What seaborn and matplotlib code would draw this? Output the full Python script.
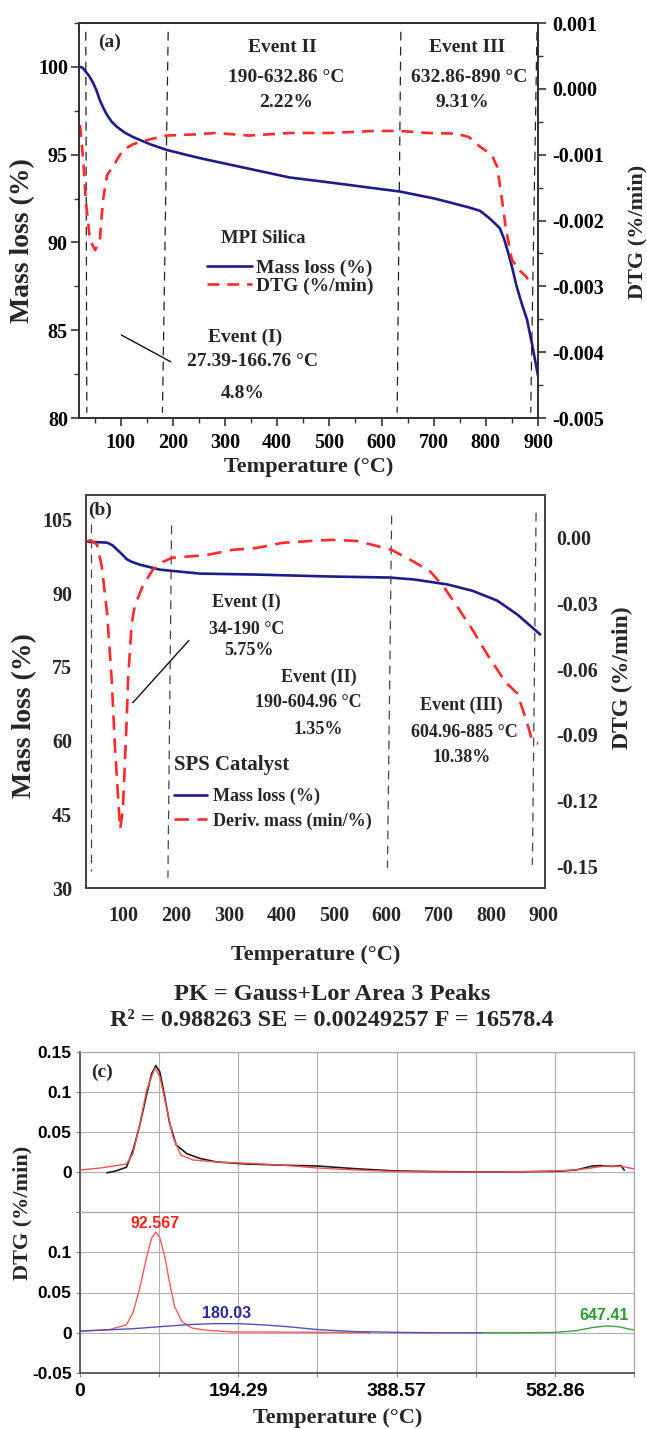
import matplotlib
matplotlib.use("Agg")
import matplotlib.pyplot as plt
import seaborn as sns
import numpy as np
from matplotlib.lines import Line2D
from matplotlib.ticker import MultipleLocator, FixedLocator
from matplotlib import font_manager as fm

# ---------------- data ----------------
# (a) MPI Silica
a_mass_T = [22, 27, 31, 39, 47, 53, 60, 66, 73, 82, 92, 108, 124, 140, 156, 188, 252, 330,
            424, 505, 635, 702, 767, 789, 806, 817, 827, 835, 843, 851, 859, 869, 879, 890, 900]
a_mass = [100.0, 99.95, 99.8, 99.5, 99.1, 98.7, 98.1, 97.7, 97.3, 96.9, 96.6, 96.25, 96.0,
          95.8, 95.6, 95.27, 94.8, 94.3, 93.7, 93.4, 92.9, 92.5, 92.0, 91.8, 91.4, 91.1,
          90.8, 90.2, 89.4, 88.5, 87.5, 86.5, 85.6, 84.0, 82.4]
a_dtg_T = [22, 28, 33, 41, 51, 60, 66, 74, 89, 104, 124, 150, 175, 188, 218, 250, 282,
           346, 425, 505, 584, 636, 687, 743, 767, 789, 811, 822, 831, 839, 850, 865, 878, 885]
a_dtg = [-0.00055, -0.00108, -0.00169, -0.0023, -0.00245, -0.0023, -0.00169, -0.00131,
         -0.00113, -0.00093, -0.00084, -0.00078, -0.00073, -0.00071, -0.0007, -0.00069,
         -0.00067, -0.00071, -0.00067, -0.00067, -0.00064, -0.00064, -0.00067, -0.00068,
         -0.00073, -0.00088, -0.001, -0.00119, -0.00169, -0.00215, -0.0026, -0.00276,
         -0.00286, -0.00296]
a_event_x_top = [33, 191, 637, 898]
a_event_x_bot = [35, 180, 630, 886]

# (b) SPS Catalyst
b_mass_T = [30, 50, 68, 78, 87, 96, 106, 115, 131, 169, 207, 245, 353, 496, 606, 653,
            716, 764, 811, 849, 893]
b_mass = [100.5, 100.4, 100.3, 99.8, 98.9, 98.0, 96.9, 96.4, 95.8, 94.8, 94.4, 94.0,
          93.8, 93.4, 93.2, 92.8, 91.8, 90.5, 88.5, 85.7, 81.6]
b_dtg_T = [30, 36, 49, 58, 68, 77, 83, 89, 93, 98, 102, 106, 108, 115, 121, 136, 155, 174,
           193, 210, 239, 258, 306, 353, 401, 456, 496, 543, 574, 610, 653, 684, 708, 731,
           764, 794, 827, 849, 866, 878, 889]
b_dtg = [-0.0018, -0.001, -0.003, -0.013, -0.034, -0.065, -0.095, -0.118, -0.133, -0.125,
         -0.103, -0.080, -0.065, -0.039, -0.031, -0.022, -0.0146, -0.011, -0.009, -0.0088,
         -0.0082, -0.0078, -0.0055, -0.0046, -0.0023, -0.0014, -0.0009, -0.0014, -0.0032,
         -0.0055, -0.011, -0.0155, -0.022, -0.03, -0.042, -0.054, -0.066, -0.071, -0.083,
         -0.093, -0.094]
b_event_x_top = [37.5, 191, 610, 885]
b_event_x_bot = [37.5, 184, 602, 878]
b_event_y_top = [104.0, 103.8, 105.8, 106.4]
b_event_y_bot = [33.5, 32.1, 34.1, 34.7]

# (c) peak fit
c_meas_T = [33, 43, 57, 65, 73, 82, 88, 93, 98, 104, 110, 118, 131, 147, 168, 204, 250,
            291, 340, 387, 440, 485, 540, 588, 609, 629, 639, 653, 664, 668]
c_meas = [-0.001, 0.001, 0.006, 0.027, 0.057, 0.098, 0.123, 0.133, 0.125, 0.094, 0.061,
          0.034, 0.023, 0.017, 0.0125, 0.010, 0.0085, 0.0075, 0.004, 0.0013, 0.0005, 0.0,
          0.0003, 0.001, 0.0025, 0.0075, 0.008, 0.007, 0.008, 0.0025]
c_fit_T = [0, 25, 57, 65, 73, 82, 92, 98, 106, 114, 124, 139, 168, 204, 250, 291, 340,
           390, 450, 500, 560, 600, 620, 645, 665, 680]
c_fit = [0.0025, 0.005, 0.01, 0.023, 0.058, 0.103, 0.130, 0.119, 0.082, 0.044, 0.021,
         0.015, 0.0125, 0.011, 0.0085, 0.005, 0.0025, 0.0005, 0.0, 0.0, 0.0005, 0.002,
         0.004, 0.0075, 0.007, 0.004]
c_p1_T = [0, 37, 57, 65, 73, 82, 88, 93, 98, 104, 110, 116, 125, 137, 155, 188, 250, 300, 356]
c_p1 = [0.002, 0.004, 0.01, 0.025, 0.054, 0.095, 0.118, 0.125, 0.118, 0.095, 0.062,
        0.033, 0.014, 0.006, 0.003, 0.001, 0.0008, 0.0005, 0.0002]
c_p2_T = [0, 65, 98, 131, 163, 196, 230, 255, 291, 336, 387, 440, 495]
c_p2 = [0.002, 0.005, 0.0075, 0.01, 0.0113, 0.0113, 0.0095, 0.0075, 0.004, 0.0015,
        0.0005, 0.0, 0.0]
c_p3_T = [495, 540, 580, 609, 629, 647, 661, 672, 680]
c_p3 = [0.0, 0.0, 0.0003, 0.0025, 0.0065, 0.0085, 0.0075, 0.005, 0.0035]
c_peak_labels = ["92.567", "180.03", "647.41"]
c_xtick_labels = ["0", "194.29", "388.57", "582.86"]
c_up_ylabels = ["", "0", "0.05", "0.1", "0.15"]
c_lo_ylabels = ["-0.05", "0", "0.05", "0.1", ""]

# ---------------- style ----------------
sns.set_theme(style="ticks")
plt.rcParams["font.family"] = ["Liberation Serif", "DejaVu Serif"]
plt.rcParams["font.weight"] = "bold"
plt.rcParams["axes.labelweight"] = "bold"
plt.rcParams["axes.unicode_minus"] = False

def have_font(name):
    try:
        fm.findfont(fm.FontProperties(family=name), fallback_to_default=False)
        return True
    except Exception:
        return False

sans = "Liberation Sans Narrow" if have_font("Liberation Sans Narrow") else "Liberation Sans"

BLUE = "#1c1c8c"
RED = "#ff2a2a"
W, H = 647, 1429
fig = plt.figure(figsize=(W / 100, H / 100), dpi=100)

def box(l, r, t, b):
    return [l / W, 1 - b / H, (r - l) / W, (b - t) / H]

def style_spines(ax, color="#333333", lw=1.4):
    for s in ax.spines.values():
        s.set_color(color)
        s.set_linewidth(lw)

# ================= (a) =================
ax = fig.add_axes(box(79, 538, 23, 418))
ax2 = ax.twinx()
sns.lineplot(x=a_mass_T, y=a_mass, ax=ax, color=BLUE, linewidth=1.9)
sns.lineplot(x=a_dtg_T, y=a_dtg, ax=ax2, color=RED, linewidth=1.9, linestyle=(0, (4.5, 3)))
for xt, xb in zip(a_event_x_top, a_event_x_bot):
    ax.plot([xt, xb], [102.0, 80.3], color="#222222", lw=0.9, linestyle=(0, (7, 5)))
ax.plot([101, 196], [84.73, 83.2], color="#111111", lw=1.0)

ax.set_xlim(20, 900)
ax.set_ylim(80, 102.5)
ax2.set_ylim(-0.005, 0.001)
ax.xaxis.set_major_locator(MultipleLocator(100))
ax.xaxis.set_minor_locator(MultipleLocator(50))
ax.yaxis.set_major_locator(MultipleLocator(5))
ax.yaxis.set_minor_locator(MultipleLocator(2.5))
ax2.yaxis.set_major_locator(MultipleLocator(0.001))
ax2.yaxis.set_minor_locator(MultipleLocator(0.0005))
ax2.yaxis.set_major_formatter(matplotlib.ticker.FormatStrFormatter("%.3f"))
ax.set_xticks(np.arange(100, 901, 100))
for a in (ax, ax2):
    a.tick_params(which="major", direction="out", length=6, width=1.2, labelsize=14.5, colors="#333333", labelcolor="black")
    a.tick_params(which="minor", direction="out", length=3.5, width=1.0, colors="#333333")
ax.tick_params(axis="x", pad=5)
ax.tick_params(axis="y", pad=2)
ax2.tick_params(axis="y", pad=4)
style_spines(ax)
style_spines(ax2)

ax.set_xlabel("Temperature (°C)", fontsize=16)
ax.xaxis.label.set_va("center")
ax.xaxis.set_label_coords(0.5, (418 - 467) / 395)
ax.set_ylabel("Mass loss (%)", fontsize=20)
ax.yaxis.label.set_va("center")
ax.yaxis.set_label_coords((23 - 79) / 459, (418 - 241) / 395)
ax2.set_ylabel("DTG (%/min)", fontsize=16, rotation=90)
ax2.yaxis.label.set_va("center")
ax2.yaxis.set_label_coords((637 - 79) / 459, (418 - 232) / 395)

tk = dict(ha="center", va="center", fontsize=14, fontweight="bold")
ax.text(79, 101.4, "(a)", **tk)
ax.text(409, 101.1, "Event II", **tk)
ax.text(417, 99.4, "190-632.86 °C", **tk)
ax.text(417, 97.95, "2.22%", **tk)
ax.text(764, 101.1, "Event III", **tk)
ax.text(768, 99.4, "632.86-890 °C", **tk)
ax.text(754, 97.95, "9.31%", **tk)
ax.text(338, 84.6, "Event (I)", **tk)
ax.text(353, 83.2, "27.39-166.76 °C", **tk)
ax.text(334, 81.4, "4.8%", **tk)
ax.text(373, 90.2, "MPI Silica", ha="center", va="center", fontsize=13.5, fontweight="bold")
h_a = [Line2D([], [], color=BLUE, lw=1.9), Line2D([], [], color=RED, lw=1.9, linestyle=(0, (4.5, 3)))]
ax2.legend(h_a, ["Mass loss (%)", "DTG (%/min)"], loc="upper left",
           bbox_to_anchor=(207 / W, 1 - 259 / H), bbox_transform=fig.transFigure,
           frameon=False, borderpad=0, borderaxespad=0, handlelength=2.3,
           handletextpad=0.2, labelspacing=0.05, prop={"size": 14, "weight": "bold"})

# ================= (b) =================
bx = fig.add_axes(box(86, 545, 495, 888))
bx2 = bx.twinx()
sns.lineplot(x=b_mass_T, y=b_mass, ax=bx, color=BLUE, linewidth=1.9)
sns.lineplot(x=b_dtg_T, y=b_dtg, ax=bx2, color=RED, linewidth=1.9, linestyle=(0, (5.5, 3.2)))
for xt, xb, yt, yb in zip(b_event_x_top, b_event_x_bot, b_event_y_top, b_event_y_bot):
    bx.plot([xt, xb], [yt, yb], color="#444444", lw=0.9, linestyle=(0, (7, 5)))
bx.plot([117, 224], [67.7, 80.4], color="#111111", lw=1.0)

bx.set_xlim(28, 902)
bx.set_ylim(30, 110)
bx2.set_ylim(-0.16, 0.0196)
bx.set_xticks(np.arange(100, 901, 100))
bx.set_yticks(np.arange(30, 106, 15))
bx2.set_yticks(np.arange(-0.15, 0.001, 0.03))
bx2.yaxis.set_major_formatter(matplotlib.ticker.FormatStrFormatter("%.2f"))
for a in (bx, bx2):
    a.tick_params(length=0, labelsize=14.5)
bx.tick_params(axis="x", pad=13)
bx.tick_params(axis="y", pad=10)
bx2.tick_params(axis="y", pad=8)
style_spines(bx, "#444444", 1.4)
style_spines(bx2, "#444444", 1.4)

bx.set_xlabel("Temperature (°C)", fontsize=16)
bx.xaxis.label.set_va("center")
bx.xaxis.set_label_coords(0.5, (888 - 955) / 393)
bx.set_ylabel("Mass loss (%)", fontsize=20)
bx.yaxis.label.set_va("center")
bx.yaxis.set_label_coords((25 - 86) / 459, (888 - 716) / 393)
bx2.set_ylabel("DTG (%/min)", fontsize=17, rotation=90)
bx2.yaxis.label.set_va("center")
bx2.yaxis.set_label_coords((622 - 86) / 459, (888 - 678) / 393)

tb = dict(ha="center", va="center", fontsize=13, fontweight="bold")
bx.text(55, 106.8, "(b)", ha="center", va="center", fontsize=14, fontweight="bold")
bx.text(334, 88.1, "Event (I)", **tb)
bx.text(334, 82.6, "34-190 °C", **tb)
bx.text(338, 78.3, "5.75%", **tb)
bx.text(471, 72.8, "Event (II)", **tb)
bx.text(452, 67.7, "190-604.96 °C", **tb)
bx.text(471, 62.2, "1.35%", **tb)
bx.text(743, 67.1, "Event (III)", **tb)
bx.text(749, 61.6, "604.96-885 °C", **tb)
bx.text(743, 56.5, "10.38%", **tb)
bx.text(195, 55.1, "SPS Catalyst", ha="left", va="center", fontsize=15, fontweight="bold")
h_b = [Line2D([], [], color=BLUE, lw=1.9), Line2D([], [], color=RED, lw=1.9, linestyle=(0, (5.5, 3.2)))]
bx2.legend(h_b, ["Mass loss (%)", "Deriv. mass (min/%)"], loc="upper left",
           bbox_to_anchor=(174 / W, 1 - 788 / H), bbox_transform=fig.transFigure,
           frameon=False, borderpad=0, borderaxespad=0, handlelength=1.85,
           handletextpad=0.3, labelspacing=0.4, prop={"size": 13, "weight": "bold"})

# ================= (c) =================
fig.text(332 / W, 1 - 995 / H, "PK = Gauss+Lor Area 3 Peaks", ha="center", va="center",
         fontsize=17.5, fontweight="bold")
fig.text(332 / W, 1 - 1020 / H, "R² = 0.988263 SE = 0.00249257 F = 16578.4", ha="center",
         va="center", fontsize=17.5, fontweight="bold")

cu = fig.add_axes(box(80, 634, 1052, 1212))
cl = fig.add_axes(box(80, 634, 1212, 1373), sharex=cu)
sns.lineplot(x=c_meas_T, y=c_meas, ax=cu, color="#1a1a1a", linewidth=1.2)
sns.lineplot(x=c_fit_T, y=c_fit, ax=cu, color="#ff5050", linewidth=1.0)
sns.lineplot(x=c_p1_T, y=c_p1, ax=cl, color="#ff5a5a", linewidth=1.0)
sns.lineplot(x=c_p2_T, y=c_p2, ax=cl, color="#5050c0", linewidth=1.0)
sns.lineplot(x=c_p3_T, y=c_p3, ax=cl, color="#40a040", linewidth=1.0)

step = 680 / 7
for a, labs in ((cu, c_up_ylabels), (cl, c_lo_ylabels)):
    a.set_xlim(0, 680)
    a.set_ylim(-0.05, 0.15)
    a.set_yticks(np.arange(-0.05, 0.151, 0.05))
    a.set_yticklabels(labs, fontfamily=sans, fontweight="bold", fontsize=12.5)
    a.xaxis.set_major_locator(FixedLocator(np.arange(0, 681, 2 * step)))
    a.xaxis.set_minor_locator(FixedLocator(np.arange(step, 681, 2 * step)))
    a.grid(True, which="both", color="#b0b0b0", linewidth=0.8)
    a.tick_params(which="both", length=3, width=0.8, colors="#888888", labelcolor="black")
    a.tick_params(axis="y", pad=3)
    for s in a.spines.values():
        s.set_color("#a8a8a8")
        s.set_linewidth(0.9)
    a.spines["left"].set_color("#555555")
    a.spines["left"].set_linewidth(1.3)
    a.set_xlabel("")
    a.set_ylabel("")
cu.spines["bottom"].set_visible(False)
cl.spines["bottom"].set_color("#555555")
cl.spines["bottom"].set_linewidth(1.3)
cu.tick_params(axis="x", which="both", labelbottom=False, length=0)
cl.set_xticks(np.arange(0, 681, 2 * step)[:4])
cl.set_xticklabels(c_xtick_labels, fontfamily=sans, fontweight="bold", fontsize=14)
cl.set_xlim(0, 680)
cl.tick_params(axis="x", pad=4)

cu.text(27, 0.124, "(c)", ha="center", va="center", fontsize=14, fontweight="bold")
cl.text(92, 0.136, c_peak_labels[0], color="#ff2020", ha="center", va="center",
        fontsize=11.5, fontweight="bold", fontfamily=sans)
cl.text(180, 0.024, c_peak_labels[1], color="#2a2a9a", ha="center", va="center",
        fontsize=11.5, fontweight="bold", fontfamily=sans)
cl.text(643, 0.021, c_peak_labels[2], color="#2f9a2f", ha="center", va="center",
        fontsize=11.5, fontweight="bold", fontfamily=sans)

fig.text(22 / W, 1 - 1213 / H, "DTG (%/min)", rotation=90, ha="center", va="center",
         fontsize=16, fontweight="bold")
fig.text(338 / W, 1 - 1418 / H, "Temperature (°C)", ha="center", va="center",
         fontsize=16, fontweight="bold")

fig.savefig("out.png", dpi=100)
